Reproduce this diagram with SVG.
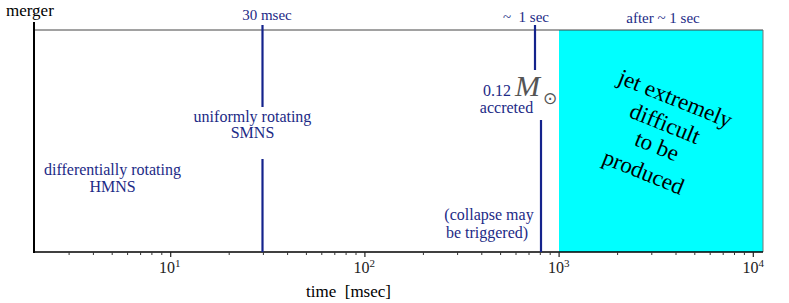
<svg xmlns="http://www.w3.org/2000/svg" width="789" height="303" viewBox="0 0 789 303">
<style>
  text { font-family: "Liberation Serif", "Times New Roman", serif; }
  .lbl { fill: #1c2a86; font-size: 16px; }
  .top { fill: #1c2a86; font-size: 15px; }
  .blk { fill: #000; }
  .tick { fill: #222; font-size: 16px; }
  .sup { font-size: 11px; }
  .vline { stroke: #14238c; stroke-width: 2.2; fill: none; }
  .minor { stroke: #333; stroke-width: 1; }
  .major { stroke: #222; stroke-width: 1.2; }
  .jet { font-size: 23px; fill: #000; }
</style>
<rect width="789" height="303" fill="#fff"/>

<g id="frame">
  <rect id="late-region" x="559" y="30" width="204" height="222" fill="#00ffff"/>
  <line x1="35" y1="30" x2="763" y2="30" stroke="#444" stroke-width="1"/>
  <line x1="763" y1="30" x2="763" y2="252" stroke="#777" stroke-width="1"/>
  <line x1="34" y1="22" x2="34" y2="253" stroke="#000" stroke-width="2"/>
  <line x1="34" y1="252" x2="763" y2="252" stroke="#000" stroke-width="1.5"/>
</g>

<g id="axis-ticks">
  <path class="minor" d="M69.1 252v3M93.4 252v3M112.2 252v3M127.6 252v3M140.6 252v3M151.9 252v3M161.8 252v3
    M229.2 252v3M263.4 252v3M287.6 252v3M306.4 252v3M321.8 252v3M334.8 252v3M346.1 252v3M356 252v3
    M423.4 252v3M457.6 252v3M481.8 252v3M500.6 252v3M516 252v3M529 252v3M540.3 252v3M550.2 252v3
    M617.6 252v3M651.8 252v3M676 252v3M694.8 252v3M710.2 252v3M723.2 252v3M734.5 252v3M744.4 252v3"/>
  <path class="major" d="M170.7 252v5M364.9 252v5M559.1 252v5M753.3 252v5"/>
  <text class="tick" x="159" y="273">10<tspan class="sup" dy="-6">1</tspan></text>
  <text class="tick" x="353.5" y="273">10<tspan class="sup" dy="-6">2</tspan></text>
  <text class="tick" x="548" y="273">10<tspan class="sup" dy="-6">3</tspan></text>
  <text class="tick" x="742.5" y="273">10<tspan class="sup" dy="-6">4</tspan></text>
  <text id="axis-title" class="blk" x="306" y="297" font-size="17" xml:space="preserve">time  [msec]</text>
</g>

<g id="connectors">
  <line class="vline" x1="262.5" y1="25" x2="262.5" y2="107"/>
  <line class="vline" x1="262.5" y1="159" x2="262.5" y2="252"/>
  <line class="vline" x1="535" y1="25" x2="535" y2="70"/>
  <line class="vline" x1="541" y1="120" x2="541" y2="252"/>
</g>

<g id="merger"><text class="blk" x="6" y="16" font-size="17">merger</text></g>
<g id="t30"><text class="top" x="267" y="20" text-anchor="middle">30 msec</text></g>
<g id="t1s"><text class="top" x="503" y="22" xml:space="preserve">~  1 sec</text></g>
<g id="after1s"><text class="top" x="663" y="23" text-anchor="middle">after ~ 1 sec</text></g>

<g id="hmns">
  <text class="lbl" x="112.5" y="175" text-anchor="middle">differentially rotating</text>
  <text class="lbl" x="112.5" y="192" text-anchor="middle">HMNS</text>
</g>
<g id="smns">
  <text class="lbl" x="252.5" y="122" text-anchor="middle">uniformly rotating</text>
  <text class="lbl" x="252.5" y="138" text-anchor="middle">SMNS</text>
</g>
<g id="accreted">
  <text class="lbl" x="483" y="96" font-size="17">0.12</text>
  <text x="515" y="96" font-size="30" font-style="italic" fill="#555">M</text>
  <text x="543" y="104" font-size="17" fill="#555" style="font-family:'DejaVu Sans',sans-serif">⊙</text>
  <text class="lbl" x="506.5" y="113" text-anchor="middle">accreted</text>
</g>
<g id="collapse">
  <text class="lbl" x="489" y="220" text-anchor="middle">(collapse may</text>
  <text class="lbl" x="487" y="238" text-anchor="middle">be triggered)</text>
</g>
<g id="jet" transform="translate(675,99) rotate(22)">
  <text class="jet" x="0" y="7" text-anchor="middle">jet extremely</text>
  <text class="jet" x="0" y="34" text-anchor="middle">difficult</text>
  <text class="jet" x="1" y="58" text-anchor="middle">to be</text>
  <text class="jet" x="-2" y="87" text-anchor="middle">produced</text>
</g>
</svg>
